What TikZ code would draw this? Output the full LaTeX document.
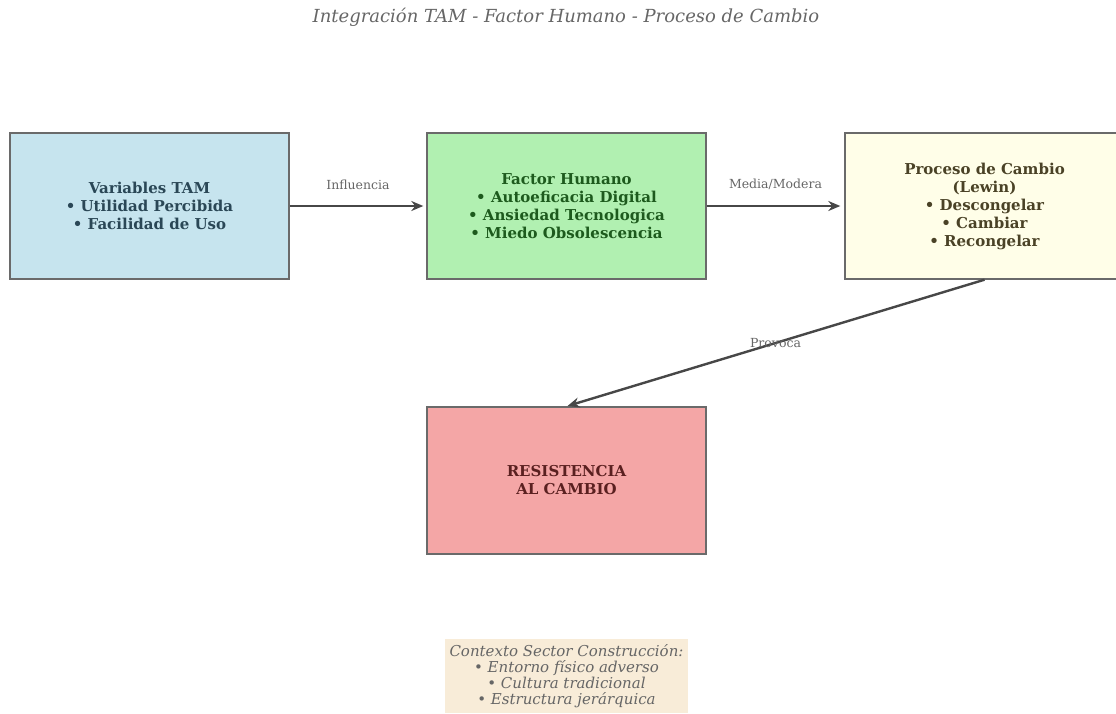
\documentclass[tikz,border=0pt]{standalone}
\usepackage{fontspec}
\setmainfont{DejaVu Serif}
\usetikzlibrary{arrows.meta}
\definecolor{bluefill}{HTML}{C6E4EE}
\definecolor{greenfill}{HTML}{B1F0B1}
\definecolor{yellowfill}{HTML}{FFFEE8}
\definecolor{redfill}{HTML}{F4A6A6}
\definecolor{wheatfill}{HTML}{F8ECD8}
\definecolor{bluetext}{HTML}{2A4756}
\definecolor{greentext}{HTML}{1D5A1D}
\definecolor{yellowtext}{HTML}{4A4226}
\definecolor{redtext}{HTML}{5A2020}
\definecolor{edgegray}{HTML}{6A6A6A}
\definecolor{arrowgray}{HTML}{474747}
\definecolor{labelgray}{HTML}{666666}
\tikzset{
  box/.style={draw=edgegray, line width=1.4pt, minimum width=279pt, minimum height=146pt,
    align=center, inner sep=0pt, font=\fontsize{15}{18}\selectfont\bfseries},
  conn/.style={draw=arrowgray, line width=2.4pt, -{Stealth[length=12pt,width=10pt]}},
  lbl/.style={text=labelgray, font=\fontsize{12.5}{14}\selectfont},
}
\begin{document}
\begin{tikzpicture}[x=1pt,y=-1pt]
\useasboundingbox (0,0) rectangle (1116,713);
\clip (0,0) rectangle (1116,713);
\node[text=labelgray, font=\fontsize{18}{20}\selectfont\itshape] (title) at (566,17) {Integración TAM - Factor Humano - Proceso de Cambio};
\node[box, fill=bluefill, text=bluetext] (tam) at (149.5,206) {Variables TAM\\• Utilidad Percibida\\• Facilidad de Uso};
\node[box, fill=greenfill, text=greentext] (fh) at (566.5,206) {Factor Humano\\• Autoeficacia Digital\\• Ansiedad Tecnologica\\• Miedo Obsolescencia};
\node[box, fill=yellowfill, text=yellowtext] (pc) at (984.5,206) {Proceso de Cambio\\(Lewin)\\• Descongelar\\• Cambiar\\• Recongelar};
\node[box, fill=redfill, text=redtext, minimum height=147pt] (rc) at (566.5,480.5) {RESISTENCIA\\AL CAMBIO};
\node[fill=wheatfill, text=labelgray, align=center, inner xsep=4.5pt, inner ysep=5pt,
  font=\fontsize{15}{16}\selectfont\itshape] (ctx) at (566.5,676) {Contexto Sector Construcción:\\• Entorno físico adverso\\• Cultura tradicional\\• Estructura jerárquica};
\draw[conn, shorten >=3pt] (tam.east) -- node[lbl, above=12pt] {Influencia} (fh.west);
\draw[conn, shorten >=4pt] (fh.east) -- node[lbl, above=12pt] {Media/Modera} (pc.west);
\draw[conn, shorten >=1pt] (pc.south) -- node[lbl] {Provoca} (rc.north);
\end{tikzpicture}
\end{document}
